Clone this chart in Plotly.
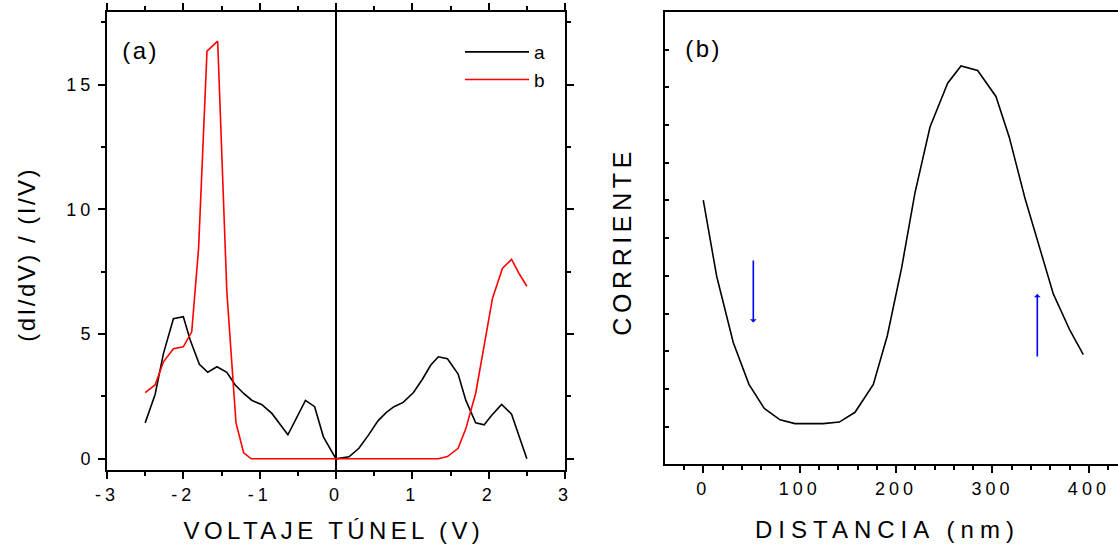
import plotly.graph_objects as go

# ---------------- data: panel (a) ----------------
V_a = [-2.50, -2.37, -2.26, -2.13, -2.00, -1.91, -1.79, -1.68, -1.56, -1.43, -1.32, -1.21,
       -1.10, -0.975, -0.84, -0.63, -0.40, -0.28, -0.165, 0.0, 0.17, 0.30, 0.425, 0.55,
       0.66, 0.76, 0.88, 1.015, 1.13, 1.24, 1.34, 1.46, 1.60, 1.70, 1.83, 1.94, 2.04,
       2.17, 2.30, 2.50]
I_a = [1.44, 2.58, 4.23, 5.62, 5.70, 4.76, 3.79, 3.47, 3.69, 3.47, 2.96, 2.62,
       2.34, 2.18, 1.82, 0.96, 2.34, 2.09, 0.88, 0.0, 0.08, 0.42, 0.95, 1.52,
       1.86, 2.09, 2.26, 2.66, 3.18, 3.75, 4.09, 4.01, 3.40, 2.35, 1.44, 1.36, 1.75,
       2.18, 1.79, 0.0]

V_b = [-2.50, -2.37, -2.26, -2.13, -2.00, -1.89, -1.80, -1.69, -1.55, -1.43, -1.31, -1.21,
       -1.11, -0.5, 0.0, 0.5, 1.0, 1.34, 1.46, 1.60, 1.70, 1.83, 1.95, 2.05, 2.18, 2.30,
       2.40, 2.50]
I_b = [2.65, 2.96, 3.89, 4.41, 4.49, 5.09, 8.45, 16.35, 16.75, 6.7, 1.44, 0.24,
       0.0, 0.0, 0.0, 0.0, 0.0, 0.0, 0.09, 0.42, 1.20, 2.63, 4.70, 6.43, 7.63, 8.00,
       7.42, 6.92]

x_tickvals_a = [-3, -2, -1, 0, 1, 2, 3]
x_ticktext_a = ["-3", "-2", "-1", "0", "1", "2", "3"]
y_tickvals_a = [0, 5, 10, 15]

# ---------------- data: panel (b) ----------------
D_nm = [0, 13.9, 31.1, 47.4, 63.3, 79.6, 95.1, 124.5, 141.1, 157.4, 176.4, 190.9, 205.8,
        219.6, 235.2, 253.5, 267.3, 284.6, 303.6, 317.4, 333.7, 349.3, 363.1, 380.4, 394.2]
corriente = [7.01, 4.99, 3.23, 2.12, 1.48, 1.18, 1.08, 1.08, 1.12, 1.38, 2.12, 3.41, 5.22,
             7.20, 8.95, 10.11, 10.57, 10.45, 9.76, 8.68, 7.06, 5.68, 4.52, 3.55, 2.91]

# arrows: (x, y_start, y_end)
arrow_down = (51.9, 5.45, 3.76)
arrow_up = (346.5, 2.82, 4.52)

FONT = "Liberation Sans, Arial, sans-serif"
W, H = 1118, 546

fig = go.Figure()
fig.add_trace(go.Scatter(x=V_a, y=I_a, mode="lines", name="a",
                         line=dict(color="black", width=1.6), xaxis="x", yaxis="y"))
fig.add_trace(go.Scatter(x=V_b, y=I_b, mode="lines", name="b",
                         line=dict(color="#ff0000", width=1.6), xaxis="x", yaxis="y"))
fig.add_trace(go.Scatter(x=D_nm, y=corriente, mode="lines", name="corriente",
                         showlegend=False,
                         line=dict(color="black", width=1.6), xaxis="x2", yaxis="y2"))

axis_common = dict(showline=True, linecolor="black", linewidth=2, showgrid=False,
                   tickcolor="black", tickwidth=1.5, automargin=False,
                   tickfont=dict(family=FONT, size=18, color="black"))

fig.update_layout(
    template="none",
    width=W, height=H, autosize=False,
    margin=dict(l=0, r=0, t=0, b=0, pad=0),
    paper_bgcolor="white", plot_bgcolor="white",
    font=dict(family=FONT, color="black"),
    showlegend=True,
    legend=dict(x=460 / W, y=1 - 33 / H, xanchor="left", yanchor="top",
                bgcolor="rgba(0,0,0,0)", itemwidth=64, borderwidth=0,
                font=dict(family=FONT, size=19, color="black"),
                tracegroupgap=0),
    xaxis=dict(domain=[107 / W, 565 / W], range=[-3, 3], anchor="y",
               tickmode="array", tickvals=x_tickvals_a, ticktext=x_ticktext_a,
               ticks="outside", ticklen=7, mirror="allticks",
               minor=dict(dtick=0.5, tick0=0, ticks="outside", ticklen=4,
                          tickcolor="black", tickwidth=1.5),
               zeroline=True, zerolinecolor="black", zerolinewidth=2,
               **axis_common),
    yaxis=dict(domain=[1 - 470 / H, 1 - 12 / H], range=[-0.45, 17.92], anchor="x",
               tickmode="array", tickvals=y_tickvals_a,
               ticks="outside", ticklen=7, mirror="allticks",
               minor=dict(dtick=2.5, tick0=0, ticks="outside", ticklen=4,
                          tickcolor="black", tickwidth=1.5),
               zeroline=False, **axis_common),
    xaxis2=dict(domain=[665 / W, 1.0], range=[-39.7, 430.2], anchor="y2",
                dtick=100, tick0=0, ticks="outside", ticklen=7, mirror=True,
                minor=dict(dtick=20, tick0=0, ticks="outside", ticklen=4,
                           tickcolor="black", tickwidth=1.5),
                zeroline=False, **axis_common),
    yaxis2=dict(domain=[1 - 464.3 / H, 1 - 12 / H], range=[0, 12], anchor="x2",
                tickmode="array", tickvals=list(range(1, 12)),
                ticks="inside", ticklen=4, showticklabels=False,
                zeroline=False, mirror=False, **axis_common),
)

ann = []
ann.append(dict(text="VOLTAJE TÚNEL (V)", x=334 / W, y=1 - 530 / H, xref="paper", yref="paper",
                showarrow=False, xanchor="center", yanchor="middle",
                font=dict(family=FONT, size=24, color="black")))
ann.append(dict(text="DISTANCIA (nm)", x=887 / W, y=1 - 529 / H, xref="paper", yref="paper",
                showarrow=False, xanchor="center", yanchor="middle",
                font=dict(family=FONT, size=24, color="black")))
ann.append(dict(text="(dI/dV) / (I/V)", x=26 / W, y=1 - 255 / H, xref="paper", yref="paper",
                showarrow=False, xanchor="center", yanchor="middle", textangle=-90,
                font=dict(family=FONT, size=24, color="black")))
ann.append(dict(text="CORRIENTE", x=622 / W, y=1 - 242 / H, xref="paper", yref="paper",
                showarrow=False, xanchor="center", yanchor="middle", textangle=-90,
                font=dict(family=FONT, size=25, color="black")))
ann.append(dict(text="(a)", x=140 / W, y=1 - 50 / H, xref="paper", yref="paper",
                showarrow=False, xanchor="center", yanchor="middle",
                font=dict(family=FONT, size=24, color="black")))
ann.append(dict(text="(b)", x=703 / W, y=1 - 48 / H, xref="paper", yref="paper",
                showarrow=False, xanchor="center", yanchor="middle",
                font=dict(family=FONT, size=24, color="black")))
for (ax_x, y0, y1) in (arrow_down, arrow_up):
    ann.append(dict(x=ax_x, y=y1, ax=ax_x, ay=y0, xref="x2", yref="y2",
                    axref="x2", ayref="y2", text="", showarrow=True,
                    arrowhead=1, arrowsize=0.7, arrowwidth=1.6, arrowcolor="#0000ff"))
fig.update_layout(annotations=ann)

post = """
document.body.style.margin = '0';
document.body.style.overflow = 'hidden';
var sp = {"VOLTAJE TÚNEL (V)": "4.4px", "DISTANCIA (nm)": "6px",
          "CORRIENTE": "4.6px", "(dI/dV) / (I/V)": "2.5px",
          "(a)": "2.5px", "(b)": "2.5px"};
document.querySelectorAll('text').forEach(function(t){
  var v = sp[t.textContent]; if (v) { t.style.letterSpacing = v; }
});
document.querySelectorAll('.xtick text, .x2tick text, .ytick text').forEach(function(t){
  t.style.letterSpacing = '4px';
});
"""

fig.write_html("out.html", post_script=post,
               config={"displayModeBar": False, "responsive": False})
